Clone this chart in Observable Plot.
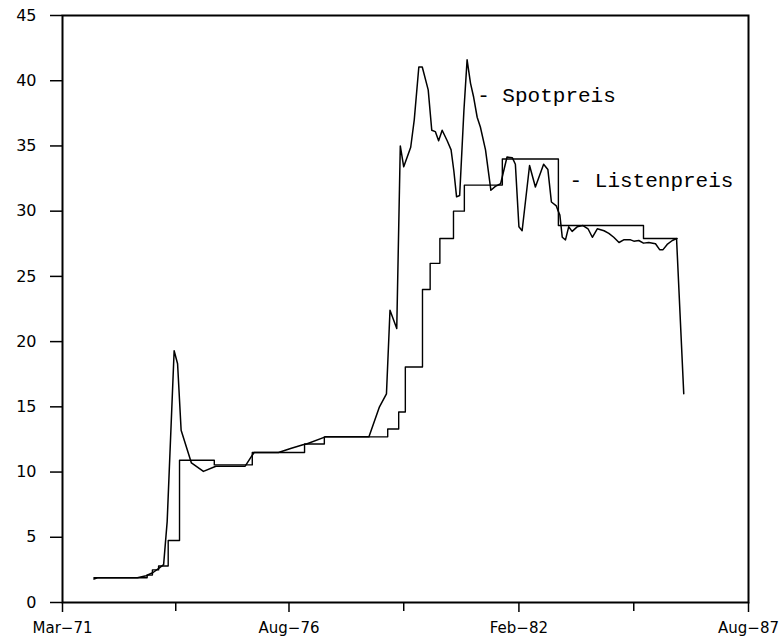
<!DOCTYPE html>
<html>
<head>
<meta charset="utf-8">
<script src="https://cdn.jsdelivr.net/npm/d3@7"></script>
<script src="https://cdn.jsdelivr.net/npm/@observablehq/plot@0.6"></script>
<style>
  html, body { margin: 0; padding: 0; background: #fff; }
</style>
</head>
<body>
<div id="chart"></div>
<script>
// Spotpreis (spot price)
const spotDates = ["1971-12","1972-01","1972-12-15","1973-03","1973-05","1973-07","1973-08","1973-09","1973-11","1973-12",
  "1974-01","1974-04","1974-07-15","1974-11","1975-07-15","1975-09","1975-10","1976-05","1976-08-15","1976-12",
  "1977-01","1977-06-15","1978-07","1978-10","1978-12","1979-01","1979-03","1979-04","1979-05","1979-07",
  "1979-08","1979-09-10","1979-10-10","1979-12","1980-01","1980-02","1980-03","1980-04","1980-05-15","1980-06-18",
  "1980-07-12","1980-08-05","1980-09","1980-10-08","1980-11-05","1980-12-05","1981-01","1981-02","1981-03","1981-04-15",
  "1981-06","1981-07-10","1981-08-25","1981-10-20","1981-12-05","1982-01","1982-02","1982-03","1982-05-05","1982-06-25",
  "1982-09-05","1982-10-12","1982-11-12","1982-12-25","1983-01-06","1983-01-25","1983-02-15","1983-03-15","1983-04-12","1983-05-12",
  "1983-06-25","1983-08-15","1983-09-28","1983-11-05","1983-12-18","1984-02-15","1984-03-28","1984-05-10","1984-06-25","1984-08-05",
  "1984-10-04","1984-11-02","1984-12-15","1985-01-25","1985-03-12","1985-05-10","1985-06-15","1985-07-15","1985-08-20","1985-10-04",
  "1985-11-10","1986-01-12"];
const spotValues = [1.8,1.9,1.9,2.05,2.3,2.7,2.9,6.2,19.3,18.3,
  13.2,10.7,10.05,10.45,10.45,11.1,11.5,11.5,11.8,12.1,
  12.15,12.7,12.7,15.0,16.0,22.4,21.0,35.0,33.4,34.9,
  37.0,41.05,41.05,39.3,36.2,36.1,35.4,36.2,35.4,34.7,
  33.1,31.1,31.2,37.7,41.6,39.8,38.75,37.2,36.45,34.7,
  31.6,31.9,32.1,34.15,34.1,33.6,28.8,28.5,33.5,31.85,
  33.6,33.2,30.7,30.4,30.1,29.7,28.0,27.8,28.8,28.45,
  28.8,28.9,28.65,28.0,28.65,28.5,28.3,28.0,27.6,27.8,
  27.8,27.7,27.75,27.55,27.6,27.5,27.05,27.05,27.45,27.75,
  27.9,16.0];

// Listenpreis (list price, stepped)
const listDates = ["1971-12","1973-03-10","1973-04-25","1973-06-18","1973-09-10","1973-12-18","1974-10-18","1975-09-15","1976-12-15","1977-06-06",
  "1978-12-12","1979-03-18","1979-05-15","1979-10-12","1979-12-18","1980-03-12","1980-07-09","1980-10-12","1981-09-09","1983-01-12",
  "1985-01-25","1985-11-15"];
const listValues = [1.9,2.1,2.5,2.8,4.75,10.9,10.55,11.5,12.15,12.7,
  13.3,14.6,18.05,24.0,26.0,27.9,30.0,32.0,34.0,28.9,
  27.9,27.9];

// Axis ticks
const yTicks = [0,5,10,15,20,25,30,35,40,45];
const xTickDates = ["1971-03","1976-08","1982-02","1987-08"];
const xTickLabels = ["Mar\u221271","Aug\u221276","Feb\u221282","Aug\u221287"];
const xMinorDates = ["1973-11-15","1979-05","1984-11"];

// Series labels
const labelTexts = ["- Spotpreis","- Listenpreis"];
const labelDates = ["1981-02-01","1983-04-20"];
const labelValues = [38.9,32.4];

const parse = s => new Date(s);
const spot = spotDates.map((d,i) => ({date: parse(d), value: spotValues[i]}));
const list = listDates.map((d,i) => ({date: parse(d), value: listValues[i]}));
const labels = labelTexts.map((t,i) => ({text: t, date: parse(labelDates[i]), value: labelValues[i]}));
const labelMap = new Map(xTickDates.map((d,i) => [+parse(d), xTickLabels[i]]));

const chart = Plot.plot({
  width: 782,
  height: 643,
  marginLeft: 62,
  marginRight: 34,
  marginTop: 15,
  marginBottom: 41,
  style: {fontFamily: "'DejaVu Sans', sans-serif", fontSize: "15px", background: "#fff", color: "#000"},
  x: {type: "utc", domain: [parse("1971-03"), parse("1987-08")]},
  y: {domain: [0, 45]},
  marks: [
    Plot.axisY({ticks: yTicks, tickSize: 12, tickPadding: 14, strokeWidth: 1.5, fontSize: 16, tickFormat: d => String(d), label: null}),
    Plot.axisX({ticks: xTickDates.map(parse), tickSize: 10, tickPadding: 10, strokeWidth: 1.5, tickFormat: d => labelMap.get(+d), label: null}),
    Plot.axisX({ticks: xMinorDates.map(parse), tickSize: 9, strokeWidth: 1.5, tickFormat: () => "", label: null}),
    Plot.line(list, {x: "date", y: "value", curve: "step-after", stroke: "#000", strokeWidth: 1.4}),
    Plot.line(spot, {x: "date", y: "value", stroke: "#000", strokeWidth: 1.5}),
    Plot.text(labels, {x: "date", y: "value", text: "text", textAnchor: "start", fontFamily: "'Courier New', 'Liberation Mono', monospace", fontSize: 21, fill: "#000"}),
    Plot.frame({stroke: "#000", strokeWidth: 2})
  ]
});
document.getElementById("chart").appendChild(chart);
</script>
</body>
</html>
